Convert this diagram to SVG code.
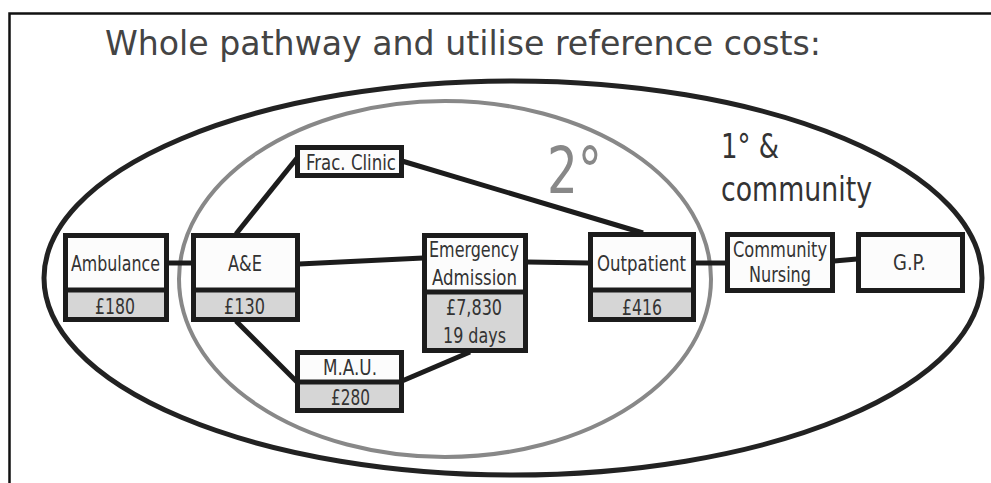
<svg xmlns="http://www.w3.org/2000/svg" width="991" height="483" viewBox="0 0 991 483">
<style>
.box{fill:#fcfcfc;stroke:#1c1c1c;stroke-width:5}
.cost{fill:#d6d6d6}
.div{stroke:#1c1c1c;stroke-width:5}
.lbl{font-family:"DejaVu Sans Condensed","DejaVu Sans",sans-serif;font-size:21.5px;fill:#333;text-anchor:start}
.conn{stroke:#1c1c1c;stroke-width:5;fill:none}
</style>
<rect x="0" y="0" width="991" height="483" fill="#fff"/>
<path d="M9.5 483 V13.5 H991" fill="none" stroke="#111" stroke-width="2.5"/>
<text x="105" y="55" font-family="'DejaVu Sans Condensed','DejaVu Sans',sans-serif" font-size="34" fill="#444" textLength="716" lengthAdjust="spacingAndGlyphs">Whole pathway and utilise reference costs:</text>
<g id="primary-community">
<ellipse cx="513" cy="278" rx="469" ry="197" fill="none" stroke="#222" stroke-width="5"/>
<text x="721" y="158" font-family="'DejaVu Sans Condensed','DejaVu Sans',sans-serif" font-size="34" fill="#333" textLength="58" lengthAdjust="spacingAndGlyphs">1° &amp;</text>
<text x="721" y="201" font-family="'DejaVu Sans Condensed','DejaVu Sans',sans-serif" font-size="34" fill="#333" textLength="151" lengthAdjust="spacingAndGlyphs">community</text>
</g>
<g id="secondary">
<ellipse cx="445" cy="279" rx="266" ry="178" fill="none" stroke="#888" stroke-width="4"/>
<text x="547" y="193" font-family="'DejaVu Sans Condensed','DejaVu Sans',sans-serif" font-size="64" fill="#888" textLength="55" lengthAdjust="spacingAndGlyphs">2°</text>
</g>
<g id="connectors" class="conn">
<line x1="168" y1="263" x2="192" y2="263"/>
<line x1="299" y1="264" x2="423" y2="258"/>
<line x1="527" y1="262" x2="589" y2="263"/>
<line x1="695" y1="263" x2="726" y2="263"/>
<line x1="834" y1="261" x2="857" y2="259"/>
<line x1="236" y1="234" x2="297" y2="158"/>
<line x1="402" y1="161" x2="643" y2="233"/>
<line x1="236" y1="321" x2="297" y2="382"/>
<line x1="402" y1="381" x2="470" y2="352"/>
</g>
<g id="ambulance">
<rect class="box" x="65.5" y="235.5" width="101" height="84"/>
<rect class="cost" x="68" y="292" width="96" height="25"/>
<line class="div" x1="65.5" y1="290" x2="166.5" y2="290"/>
<text class="lbl" x="71" y="271" textLength="89" lengthAdjust="spacingAndGlyphs">Ambulance</text>
<text class="lbl" x="95" y="314" textLength="40" lengthAdjust="spacingAndGlyphs">£180</text>
</g>
<g id="ae">
<rect class="box" x="193.5" y="235.5" width="104" height="84"/>
<rect class="cost" x="196" y="292" width="99" height="25"/>
<line class="div" x1="193.5" y1="290" x2="297.5" y2="290"/>
<text class="lbl" x="228" y="271" textLength="34" lengthAdjust="spacingAndGlyphs">A&amp;E</text>
<text class="lbl" x="224" y="314" textLength="41" lengthAdjust="spacingAndGlyphs">£130</text>
</g>
<g id="frac-clinic">
<rect class="box" x="297.5" y="147.5" width="104" height="28"/>
<text class="lbl" x="306" y="170" textLength="90" lengthAdjust="spacingAndGlyphs">Frac. Clinic</text>
</g>
<g id="emergency-admission">
<rect class="box" x="424.5" y="235.5" width="101" height="115"/>
<rect class="cost" x="427" y="294" width="96" height="54"/>
<line class="div" x1="424.5" y1="292" x2="525.5" y2="292"/>
<text class="lbl" x="429" y="257" textLength="90" lengthAdjust="spacingAndGlyphs">Emergency</text>
<text class="lbl" x="432" y="285" textLength="85" lengthAdjust="spacingAndGlyphs">Admission</text>
<text class="lbl" x="446" y="315" textLength="56" lengthAdjust="spacingAndGlyphs">£7,830</text>
<text class="lbl" x="443" y="343" textLength="63" lengthAdjust="spacingAndGlyphs">19 days</text>
</g>
<g id="mau">
<rect class="box" x="297.5" y="352.5" width="104" height="58"/>
<rect class="cost" x="300" y="384" width="99" height="24"/>
<line class="div" x1="297.5" y1="382" x2="401.5" y2="382"/>
<text class="lbl" x="323" y="375" textLength="54" lengthAdjust="spacingAndGlyphs">M.A.U.</text>
<text class="lbl" x="331" y="405" textLength="39" lengthAdjust="spacingAndGlyphs">£280</text>
</g>
<g id="outpatient">
<rect class="box" x="590.5" y="234.5" width="103" height="85"/>
<rect class="cost" x="593" y="292" width="98" height="25"/>
<line class="div" x1="590.5" y1="290" x2="693.5" y2="290"/>
<text class="lbl" x="597" y="271" textLength="89" lengthAdjust="spacingAndGlyphs">Outpatient</text>
<text class="lbl" x="622" y="315" textLength="40" lengthAdjust="spacingAndGlyphs">£416</text>
</g>
<g id="community-nursing">
<rect class="box" x="727.5" y="234.5" width="105" height="56"/>
<text class="lbl" x="733" y="257" textLength="94" lengthAdjust="spacingAndGlyphs">Community</text>
<text class="lbl" x="749" y="282" textLength="62" lengthAdjust="spacingAndGlyphs">Nursing</text>
</g>
<g id="gp">
<rect class="box" x="858.5" y="234.5" width="104" height="56"/>
<text class="lbl" x="893" y="270" textLength="33" lengthAdjust="spacingAndGlyphs">G.P.</text>
</g>
</svg>
